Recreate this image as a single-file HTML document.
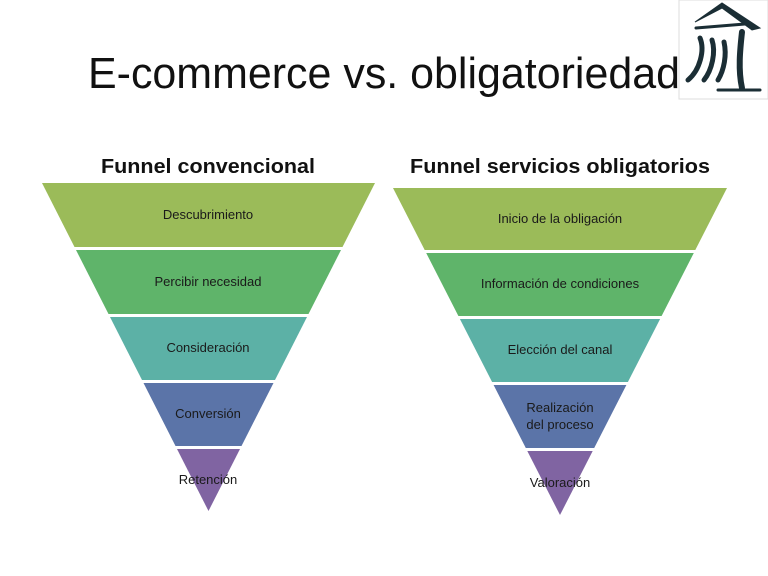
<!DOCTYPE html>
<html><head><meta charset="utf-8"><style>
html,body{margin:0;padding:0;background:#fff;}
svg{display:block;font-family:"Liberation Sans",sans-serif;}
</style></head><body>
<svg width="768" height="576" viewBox="0 0 768 576" xmlns="http://www.w3.org/2000/svg">
<rect width="768" height="576" fill="#fff"/>
<text x="88" y="88" font-size="44" fill="#111" textLength="592" lengthAdjust="spacingAndGlyphs">E-commerce vs. obligatoriedad</text>
<!-- logo -->
<rect x="679" y="0" width="89" height="99" fill="#fff" stroke="#ddd" stroke-width="1"/>
<g fill="#1b2e35" stroke="#1b2e35" stroke-linecap="round">
<path d="M695 22 L722 3 L760 28 L752 30 L722 8 Z"/>
<path d="M696 28 L745 24" stroke-width="3" fill="none"/>
<path d="M700 38 C705 50 700 70 688 80" stroke-width="5" fill="none"/>
<path d="M712 40 C716 52 712 70 704 80" stroke-width="5" fill="none"/>
<path d="M724 42 C727 55 724 70 718 80" stroke-width="5" fill="none"/>
<path d="M742 32 C740 50 738 70 742 88" stroke-width="6" fill="none"/>
<path d="M718 90 L760 90" stroke-width="3" fill="none"/>
</g>
<text x="208" y="173" font-size="20" font-weight="bold" text-anchor="middle" fill="#111" textLength="214" lengthAdjust="spacingAndGlyphs">Funnel convencional</text>
<text x="560" y="173" font-size="20" font-weight="bold" text-anchor="middle" fill="#111" textLength="300" lengthAdjust="spacingAndGlyphs">Funnel servicios obligatorios</text>
<g>
<polygon points="42,183 375,183 342.5,247 74.5,247" fill="#9bbb59"/>
<polygon points="76,250 341,250 308.5,314 108.5,314" fill="#5fb46a"/>
<polygon points="110,317 307,317 275,380 142,380" fill="#5cb1a6"/>
<polygon points="143.5,383 273.5,383 241.5,446 175.5,446" fill="#5b74a8"/>
<polygon points="177,449 240,449 208.5,511" fill="#8064a2"/>
<polygon points="393,188 727,188 695.3,250 424.7,250" fill="#9bbb59"/>
<polygon points="426.2,253 693.8,253 661.6,316 458.4,316" fill="#5fb46a"/>
<polygon points="459.9,319 660.1,319 627.9,382 492.1,382" fill="#5cb1a6"/>
<polygon points="493.6,385 626.4,385 594.2,448 525.8,448" fill="#5b74a8"/>
<polygon points="527.3,451 592.7,451 560,515" fill="#8064a2"/>
</g>
<g font-size="13" fill="#1a1a1a" text-anchor="middle">
<text x="208" y="219">Descubrimiento</text>
<text x="208" y="286">Percibir necesidad</text>
<text x="208" y="352">Consideración</text>
<text x="208" y="418">Conversión</text>
<text x="208" y="484">Retención</text>
<text x="560" y="223">Inicio de la obligación</text>
<text x="560" y="288">Información de condiciones</text>
<text x="560" y="354">Elección del canal</text>
<text x="560" y="412">Realización</text>
<text x="560" y="429">del proceso</text>
<text x="560" y="487">Valoración</text>
</g>
</svg>
</body></html>
